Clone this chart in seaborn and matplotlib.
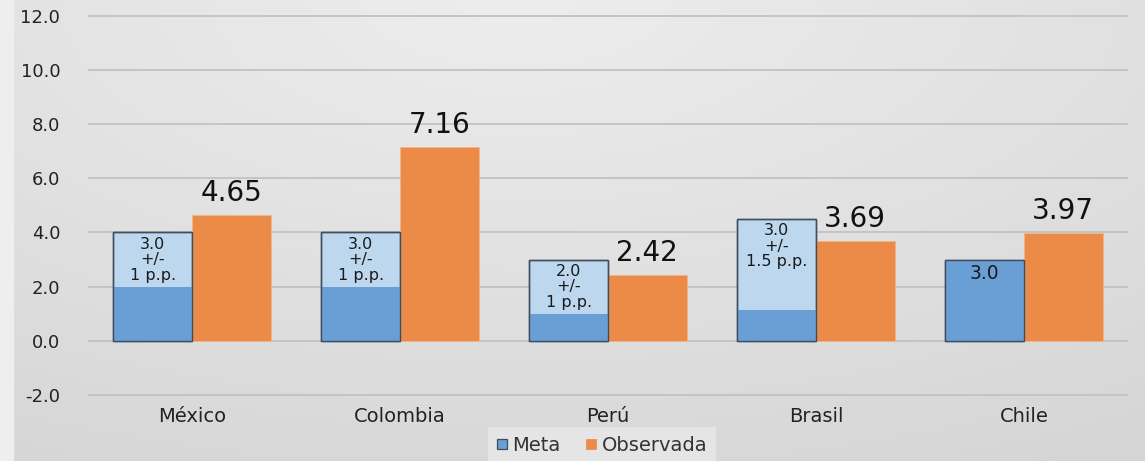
import numpy as np
import pandas as pd
import matplotlib
matplotlib.use("Agg")
import matplotlib.pyplot as plt
from matplotlib.lines import Line2D
import seaborn as sns

# ---- data ----
countries = ["México", "Colombia", "Perú", "Brasil", "Chile"]
meta_upper = [4.0, 4.0, 3.0, 4.5, 3.0]      # top of target range
meta_lower = [2.0, 2.0, 1.0, 1.15, 3.0]     # bottom of target range (dark part)
observada = [4.65, 7.16, 2.42, 3.69, 3.97]
meta_text = ["3.0\n+/-\n1 p.p.", "3.0\n+/-\n1 p.p.", "2.0\n+/-\n1 p.p.",
             "3.0\n+/-\n1.5 p.p.", "3.0"]
yticks = [-2.0, 0.0, 2.0, 4.0, 6.0, 8.0, 10.0, 12.0]

DARK = "#6A9FD5"
LIGHT = "#BDD7EE"
ORANGE = "#EC8A48"
EDGE = "#3F4D5E"

sns.set_theme(style="white")
plt.rcParams["font.family"] = ["DejaVu Sans"]

fig = plt.figure(figsize=(11.45, 4.61), dpi=100)

# background gradient
bg = fig.add_axes([0, 0, 1, 1], zorder=-10)
yy, xx = np.mgrid[0:1:200j, 0:1:400j]
dist = np.sqrt(((xx - 0.45) * 1.0) ** 2 + ((yy - 0.0) * 0.9) ** 2)
val = 0.93 - 0.09 * dist
img = np.dstack([val, val, val])
bg.imshow(img, aspect="auto", extent=[0, 1, 1, 0], interpolation="bilinear")
bg.axvspan(0, 13 / 1145, color="#EEEEEE")
bg.set_xlim(0, 1); bg.set_ylim(1, 0)
bg.axis("off")

ax = fig.add_axes([88 / 1145, 1 - 400.4 / 461, 1040 / 1145, 390 / 461])
ax.patch.set_alpha(0)

df = pd.DataFrame({
    "País": countries * 2,
    "Serie": ["Meta"] * len(countries) + ["Observada"] * len(countries),
    "Valor": meta_upper + observada,
})
sns.barplot(data=df, x="País", y="Valor", hue="Serie",
            hue_order=["Meta", "Observada"],
            palette={"Meta": LIGHT, "Observada": ORANGE},
            order=countries, width=0.755, dodge=True, gap=0,
            legend=False, ax=ax, zorder=3, saturation=1, errorbar=None)

meta_bars = ax.containers[0]
obs_bars = ax.containers[1]

for bar in meta_bars:
    bar.set_edgecolor(EDGE)
    bar.set_linewidth(1.0)
for bar in obs_bars:
    bar.set_edgecolor("#F3B58A")
    bar.set_linewidth(0.6)

# dark lower part of meta
xs = [b.get_x() for b in meta_bars]
ws = [b.get_width() for b in meta_bars]
ax.bar(xs, meta_lower, width=ws, align="edge", color=DARK,
       edgecolor="none", zorder=3.5)
# re-draw edge outline on top
for b in meta_bars:
    ax.add_patch(plt.Rectangle((b.get_x(), 0), b.get_width(), b.get_height(),
                               fill=False, edgecolor=EDGE, linewidth=1.0,
                               zorder=4))

# meta text
for b, txt in zip(meta_bars, meta_text):
    cx = b.get_x() + b.get_width() / 2
    top = b.get_height()
    fs = 13.5 if "\n" not in txt else 11.5
    ax.text(cx, top - 0.15, txt, ha="center", va="top", fontsize=fs,
            color="#1A1A1A", linespacing=1.05, zorder=6)

# observada labels
for b, v in zip(obs_bars, observada):
    cx = b.get_x() + b.get_width() / 2
    ax.text(cx, v + 0.3, f"{v:.2f}", ha="center", va="bottom", fontsize=20,
            color="#111111", zorder=6)

ax.set_ylim(-2.2, 12.2)
ax.set_xlim(-0.5, len(countries) - 0.5)
ax.set_yticks(yticks)
ax.set_yticklabels([f"{t:.1f}" for t in yticks], fontsize=13, color="#222222")
ax.tick_params(axis="y", length=0, pad=20)
ax.tick_params(axis="x", length=0, pad=5, labelsize=14, labelcolor="#222222")
ax.set_xlabel("")
ax.set_ylabel("")
for s in ax.spines.values():
    s.set_visible(False)
ax.yaxis.grid(True, color="#C2C2C2", linewidth=1.3, zorder=0)
ax.xaxis.grid(False)
ax.set_axisbelow(True)

handles = [Line2D([], [], marker="s", linestyle="none", markersize=6.5,
                  markerfacecolor=DARK, markeredgecolor=EDGE,
                  markeredgewidth=0.9, label="Meta"),
           Line2D([], [], marker="s", linestyle="none", markersize=6.5,
                  markerfacecolor=ORANGE, markeredgecolor=ORANGE,
                  markeredgewidth=0.5, label="Observada")]
leg = fig.legend(handles=handles, loc="lower center",
                 bbox_to_anchor=(602 / 1145, -0.005), ncol=2, fontsize=14,
                 frameon=True, handlelength=0.5, handletextpad=0.3,
                 columnspacing=1.3, borderpad=0.45,
                 borderaxespad=0.0, fancybox=False)
leg.get_frame().set_facecolor("#E9E9E9")
leg.get_frame().set_edgecolor("none")
for t in leg.get_texts():
    t.set_color("#333333")

fig.savefig("out.png", dpi=100)
